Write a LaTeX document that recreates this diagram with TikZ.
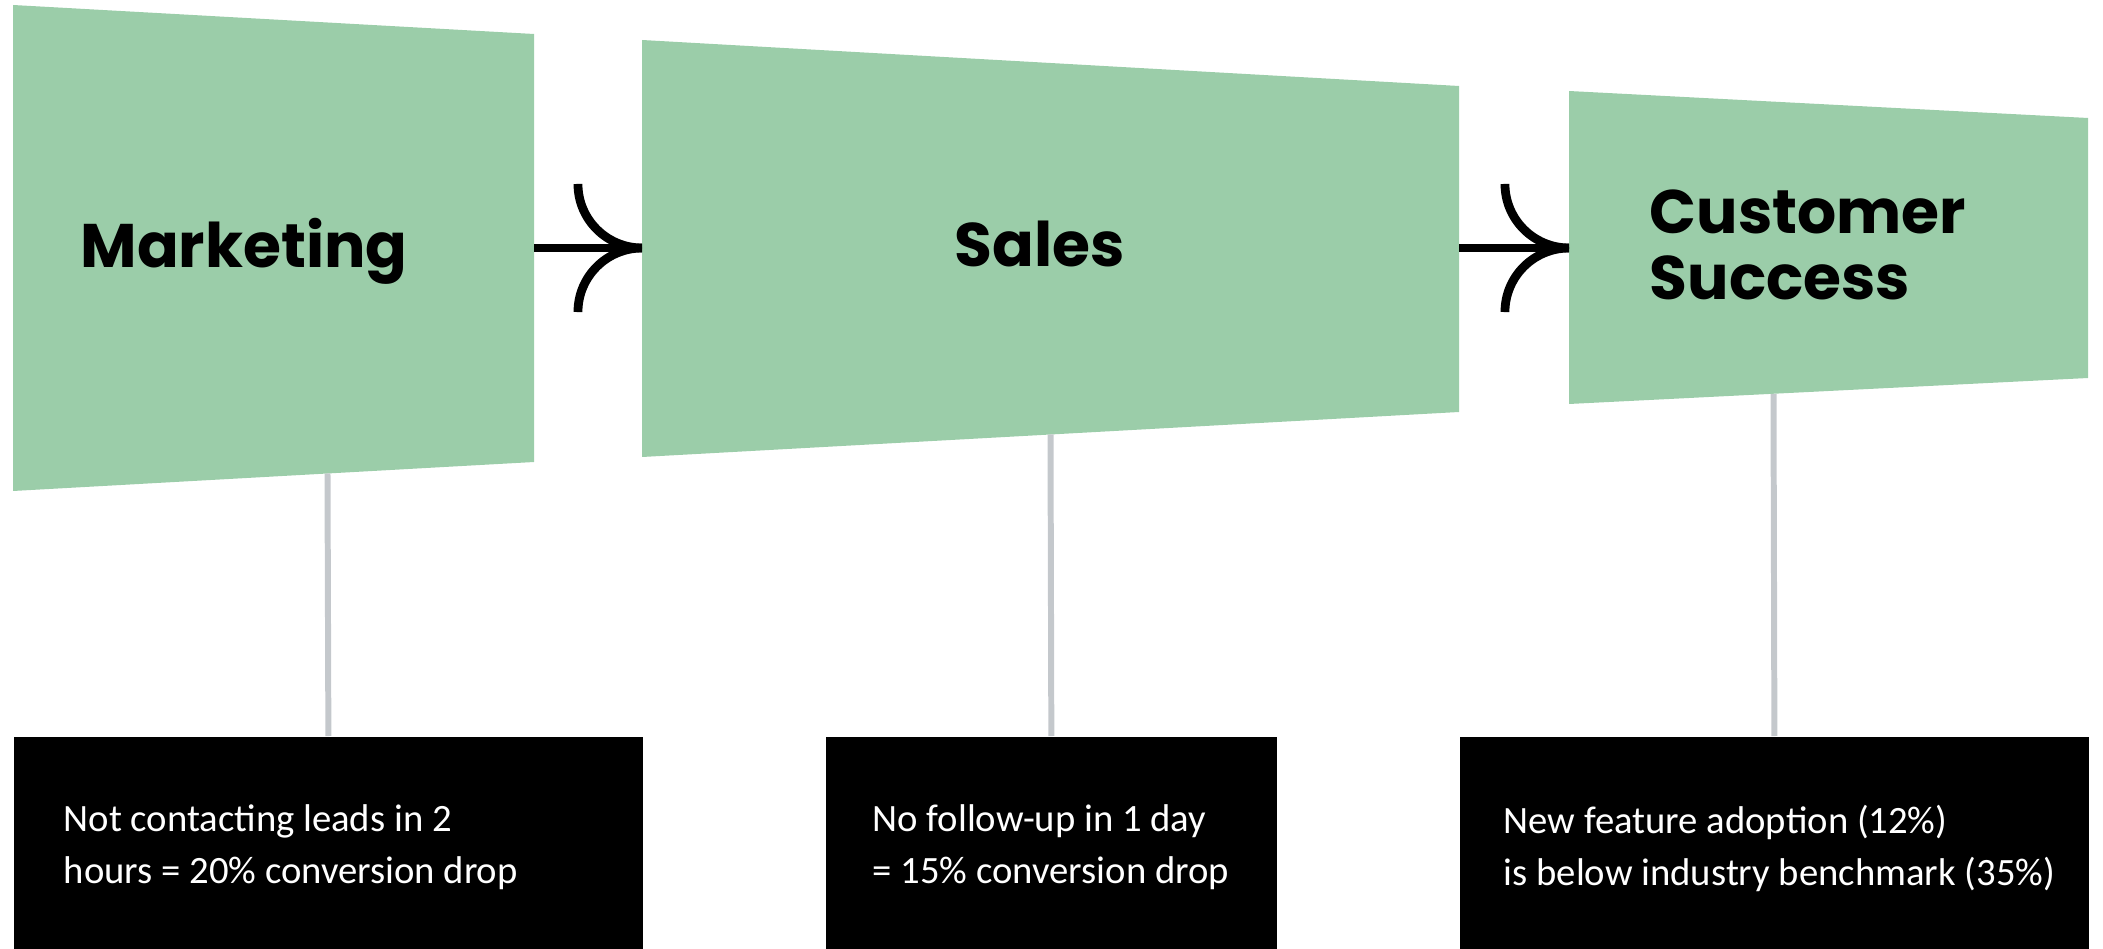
\documentclass[tikz,border=0pt]{standalone}
\usepackage{fontspec}
\setmainfont{Carlito}
\newfontfamily\headfont{Poppins}
\usetikzlibrary{positioning, calc}
\definecolor{stage-green}{RGB}{155,205,169}
\definecolor{link-grey}{RGB}{196,200,204}

\begin{document}
\begin{tikzpicture}[x=0.01cm, y=-0.01cm]
        \tikzset{ stg/.style ={fill=stage-green, draw=none} }
        \tikzset{ ttl/.style ={font=\headfont\bfseries\fontsize{17.5}{18.8}\selectfont, text=black, inner sep=0pt} }
        \tikzset{ flow/.style={draw=black, line width=2.5pt} }
        \tikzset{ lnk/.style ={draw=link-grey, line width=1.7pt} }
        \tikzset{ nbox/.style={fill=black, draw=none, anchor=north west, inner sep=0pt, minimum height=2.13cm} }
        \tikzset{ ntxt/.style={text=white, font=\fontsize{11}{14.8}\selectfont, align=left, inner sep=0pt, anchor=north west} }

        \useasboundingbox (0,0) rectangle (2103,949);

        % stages
        \fill[stg] (13,5)    -- (534,34)   -- (534,462)  -- (13,491)   -- cycle;
        \fill[stg] (642,40)  -- (1459,86)  -- (1459,412) -- (642,457)  -- cycle;
        \fill[stg] (1569,91) -- (2088,118) -- (2088,378) -- (1569,404) -- cycle;

        \node[ttl, anchor=base west] (mkt) at (80,268)   {Marketing};
        \node[ttl, anchor=base]      (sal) at (1040,267) {Sales};
        \node[ttl, anchor=base west, align=left] (cus) at (1649,300) {Customer\\Success};

        \coordinate (mkt_e) at (534,248);
        \coordinate (sal_w) at (642,248);
        \coordinate (sal_e) at (1459,248);
        \coordinate (cus_w) at (1569,248);

        \coordinate (mkt_s) at (327.5,473.5);
        \coordinate (sal_s) at (1050.5,434.5);
        \coordinate (cus_s) at (1773.5,393.8);

        % hand-over arrows
        \draw[flow] (mkt_e) -- (sal_w);
        \draw[flow] (sal_w) arc[start angle=270, end angle=180, radius=0.64cm];
        \draw[flow] (sal_w) arc[start angle=90,  end angle=180, radius=0.64cm];

        \draw[flow] (sal_e) -- (cus_w);
        \draw[flow] (cus_w) arc[start angle=270, end angle=180, radius=0.64cm];
        \draw[flow] (cus_w) arc[start angle=90,  end angle=180, radius=0.64cm];

        % issue boxes
        \node[nbox, minimum width=6.29cm] (mkt_box) at (13,736)   {};
        \node[nbox, minimum width=4.51cm] (sal_box) at (825,736)  {};
        \node[nbox, minimum width=6.29cm] (cus_box) at (1459,736) {};

        \draw[lnk] (mkt_s) -- (mkt_box.north);
        \draw[lnk] (sal_s) -- (sal_box.north);
        \draw[lnk] (cus_s) -- (cus_box.north);

        \node[ntxt] (mkt_note) at (63,804)   {Not contacting leads in 2\\hours = 20\% conversion drop};
        \node[ntxt] (sal_note) at (872,804)  {No follow-up in 1 day\\= 15\% conversion drop};
        \node[ntxt] (cus_note) at (1503,804) {New feature adoption (12\%)\\is below industry benchmark (35\%)};
      \end{tikzpicture}
\end{document}
